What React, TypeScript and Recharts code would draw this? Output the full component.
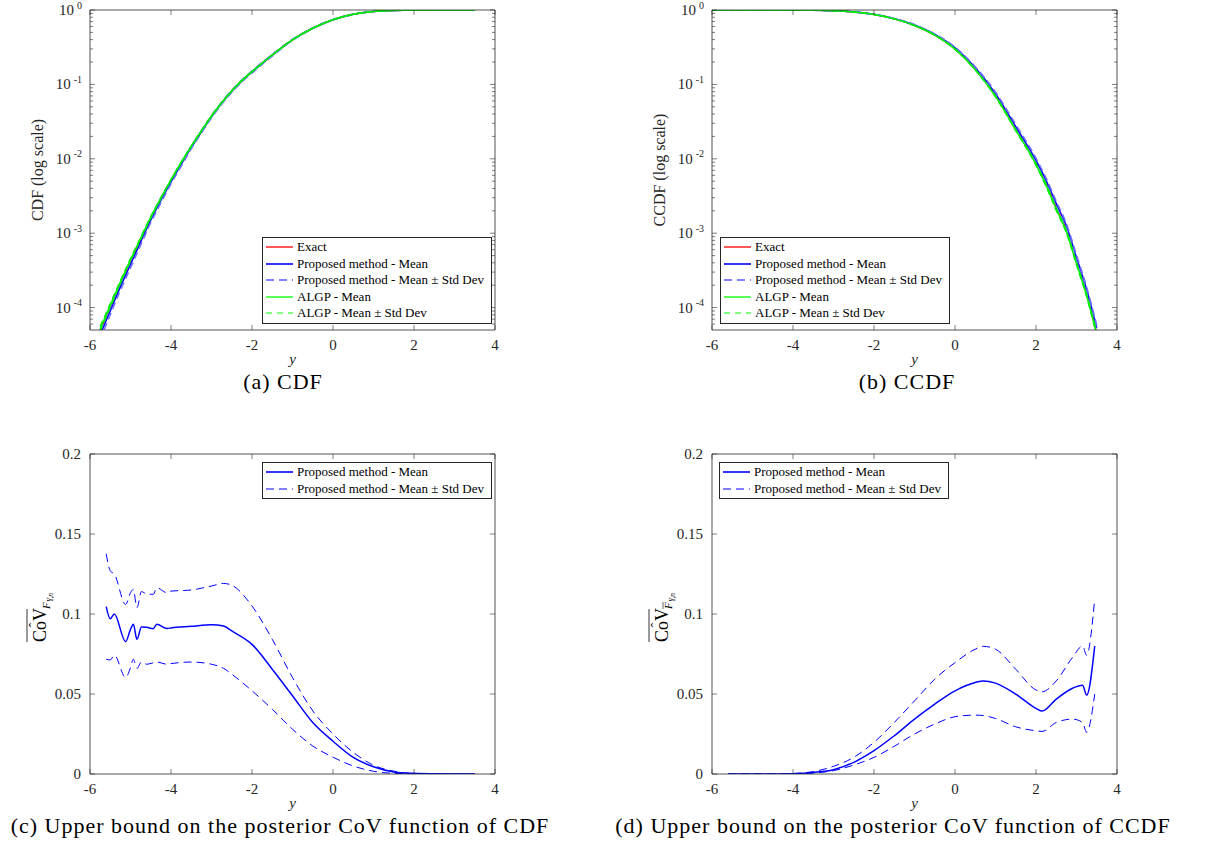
import { LineChart, Line, XAxis, YAxis, Legend } from "recharts";

const FONT = "'Liberation Serif', 'Times New Roman', Times, serif";
const INK = "#262626";

// ---- (a) CDF, log scale
const cdfY = [-5.75, -5.5, -5.25, -5, -4.75, -4.5, -4.25, -4, -3.75, -3.5, -3.25, -3, -2.75, -2.5, -2.25, -2, -1.5, -1, -0.5, 0, 0.5, 1, 1.5, 2, 2.5, 3, 3.5];
const cdfExact = [4.9e-5, 1.0e-4, 2.1e-4, 4.2e-4, 8.2e-4, 1.6e-3, 2.9e-3, 5.1e-3, 8.7e-3, 0.0145, 0.0234, 0.0372, 0.0562, 0.0813, 0.112, 0.148, 0.248, 0.398, 0.569, 0.741, 0.875, 0.955, 0.985, 0.997, 0.9995, 1, 1];
const cdfPropMean = [4.3e-5, 0.9e-4, 1.9e-4, 3.8e-4, 7.6e-4, 1.5e-3, 2.75e-3, 4.9e-3, 8.4e-3, 0.0142, 0.0231, 0.0368, 0.0558, 0.0808, 0.1115, 0.147, 0.247, 0.397, 0.568, 0.74, 0.875, 0.955, 0.985, 0.997, 0.9995, 1, 1];
const cdfPropHi = [5.0e-5, 1.02e-4, 2.15e-4, 4.3e-4, 8.4e-4, 1.62e-3, 2.95e-3, 5.2e-3, 8.9e-3, 0.0149, 0.0241, 0.0382, 0.0578, 0.0836, 0.115, 0.152, 0.254, 0.405, 0.576, 0.748, 0.88, 0.957, 0.986, 0.997, 0.9995, 1, 1];
const cdfPropLo = [3.7e-5, 0.8e-4, 1.7e-4, 3.4e-4, 6.9e-4, 1.38e-3, 2.55e-3, 4.6e-3, 7.9e-3, 0.0136, 0.0222, 0.0355, 0.054, 0.078, 0.108, 0.142, 0.24, 0.39, 0.56, 0.732, 0.868, 0.952, 0.984, 0.997, 0.9995, 1, 1];
const cdfAlgpMean = [5.2e-5, 1.07e-4, 2.2e-4, 4.4e-4, 8.5e-4, 1.63e-3, 2.95e-3, 5.2e-3, 8.9e-3, 0.0147, 0.0237, 0.0376, 0.0566, 0.0818, 0.1125, 0.1485, 0.2485, 0.398, 0.569, 0.741, 0.875, 0.955, 0.985, 0.997, 0.9995, 1, 1];
const cdfAlgpHi = [5.6e-5, 1.14e-4, 2.32e-4, 4.6e-4, 8.8e-4, 1.68e-3, 3.03e-3, 5.3e-3, 9.1e-3, 0.015, 0.0241, 0.0382, 0.0573, 0.0826, 0.1135, 0.1495, 0.25, 0.4, 0.571, 0.743, 0.876, 0.956, 0.985, 0.997, 0.9995, 1, 1];
const cdfAlgpLo = [4.8e-5, 1.0e-4, 2.08e-4, 4.2e-4, 8.2e-4, 1.58e-3, 2.88e-3, 5.1e-3, 8.7e-3, 0.0144, 0.0233, 0.037, 0.0559, 0.081, 0.1115, 0.1475, 0.247, 0.396, 0.567, 0.739, 0.874, 0.954, 0.985, 0.997, 0.9995, 1, 1];

// ---- (b) CCDF, log scale
const ccdfY = [-6, -5, -4, -3.5, -3, -2.5, -2, -1.5, -1, -0.5, 0, 0.5, 1, 1.5, 2, 2.25, 2.5, 2.75, 3, 3.25, 3.5];
const ccdfExact = [1, 0.9999, 0.998, 0.992, 0.977, 0.94, 0.87, 0.76, 0.62, 0.46, 0.3, 0.16, 0.071, 0.025, 0.0087, 0.0046, 0.0022, 0.0011, 4.1e-4, 1.5e-4, 4.5e-5];
const ccdfPropMean = [1, 0.9999, 0.998, 0.992, 0.978, 0.942, 0.874, 0.765, 0.63, 0.47, 0.31, 0.167, 0.075, 0.027, 0.0095, 0.0051, 0.0025, 0.00125, 4.7e-4, 1.75e-4, 5.3e-5];
const ccdfPropHi = [1, 1, 0.999, 0.994, 0.981, 0.947, 0.88, 0.772, 0.638, 0.478, 0.318, 0.173, 0.079, 0.029, 0.0102, 0.0055, 0.0027, 0.00135, 5.1e-4, 1.9e-4, 5.8e-5];
const ccdfPropLo = [1, 0.9998, 0.997, 0.99, 0.975, 0.937, 0.868, 0.758, 0.622, 0.462, 0.302, 0.161, 0.071, 0.025, 0.0088, 0.0047, 0.0023, 0.00115, 4.3e-4, 1.6e-4, 4.8e-5];
const ccdfAlgpMean = [1, 0.9999, 0.998, 0.992, 0.977, 0.94, 0.87, 0.76, 0.62, 0.46, 0.298, 0.158, 0.069, 0.0243, 0.0084, 0.0044, 0.0021, 0.00105, 3.9e-4, 1.45e-4, 4.4e-5];
const ccdfAlgpHi = [1, 1, 0.9985, 0.993, 0.978, 0.942, 0.872, 0.762, 0.623, 0.463, 0.301, 0.16, 0.0705, 0.0249, 0.0087, 0.0046, 0.0022, 0.0011, 4.1e-4, 1.52e-4, 4.7e-5];
const ccdfAlgpLo = [1, 0.9998, 0.9975, 0.991, 0.976, 0.938, 0.868, 0.758, 0.617, 0.457, 0.295, 0.156, 0.0675, 0.0237, 0.0081, 0.0042, 0.002, 0.001, 3.7e-4, 1.38e-4, 4.1e-5];

// ---- (c) CoV bound of CDF
const covCdfY = [-5.6, -5.5, -5.4, -5.12, -5.0, -4.93, -4.84, -4.73, -4.6, -4.44, -4.35, -4.1, -4, -3.5, -3, -2.7, -2.5, -2, -1.5, -1, -0.5, 0, 0.5, 1, 1.5, 2, 2.5, 3, 3.5];
const covCdfMean = [0.1046, 0.097, 0.1, 0.0827, 0.0904, 0.0936, 0.0842, 0.0919, 0.0917, 0.0908, 0.0936, 0.091, 0.0913, 0.0923, 0.0933, 0.0925, 0.0894, 0.081, 0.0655, 0.0489, 0.0322, 0.0205, 0.0104, 0.0045, 0.0013, 0.0004, 0.0001, 0, 0];
const covCdfHi = [0.1376, 0.127, 0.125, 0.106, 0.1133, 0.1154, 0.104, 0.114, 0.1125, 0.1123, 0.1164, 0.1133, 0.1143, 0.115, 0.1175, 0.1191, 0.118, 0.105, 0.0842, 0.0603, 0.0395, 0.025, 0.0135, 0.0055, 0.0018, 0.0002, 0, 0, 0];
const covCdfLo = [0.0717, 0.0713, 0.0742, 0.0603, 0.0665, 0.0717, 0.066, 0.07, 0.0686, 0.0695, 0.07, 0.0686, 0.069, 0.07, 0.0686, 0.066, 0.0624, 0.052, 0.0405, 0.028, 0.0175, 0.0105, 0.005, 0.0017, 0.0004, 0.0001, 0, 0, 0];

// ---- (d) CoV bound of CCDF
const covCcdfY = [-5.6, -5, -4.5, -4, -3.5, -3, -2.5, -2, -1.5, -1, -0.5, 0, 0.5, 0.7, 1, 1.5, 2, 2.15, 2.5, 2.9, 3.15, 3.25, 3.45];
const covCcdfMean = [0, 0, 0, 0.0002, 0.001, 0.0027, 0.0073, 0.0146, 0.0239, 0.0343, 0.0437, 0.052, 0.0572, 0.0582, 0.0568, 0.0499, 0.041, 0.0393, 0.0468, 0.0536, 0.0555, 0.0493, 0.08];
const covCcdfHi = [0, 0, 0, 0.0003, 0.0015, 0.0048, 0.0104, 0.0198, 0.0322, 0.0457, 0.0593, 0.0696, 0.078, 0.0798, 0.078, 0.0655, 0.0525, 0.0514, 0.0582, 0.0728, 0.08, 0.0742, 0.1096];
const covCcdfLo = [0, 0, 0, 0.0001, 0.0006, 0.0021, 0.0056, 0.0104, 0.0173, 0.025, 0.0312, 0.0358, 0.0368, 0.0365, 0.0347, 0.0295, 0.027, 0.0266, 0.0322, 0.0343, 0.0322, 0.026, 0.0499];

const xTicks = [-6, -4, -2, 0, 2, 4];
const logMajor = [1e-4, 1e-3, 1e-2, 1e-1, 1];
const logMinorMant = [2, 3, 4, 5, 6, 7, 8, 9];
const logTicks = [6e-5, 7e-5, 8e-5, 9e-5, ...logMajor, ...logMajor.slice(0, 4).flatMap((d) => logMinorMant.map((m) => m * d))];
const covTicks = [0, 0.05, 0.1, 0.15, 0.2];

const captions = [
  "(a) CDF",
  "(b) CCDF",
  "(c) Upper bound on the posterior CoV function of CDF",
  "(d) Upper bound on the posterior CoV function of CCDF",
];

type SeriesStyle = { key: string; color: string; width: number; dash?: string };
type LegendItem = { label: string; color: string; width: number; dash?: string };

const fullSeries: SeriesStyle[] = [
  { key: "exact", color: "#ff0000", width: 1.5 },
  { key: "propMean", color: "#0000ff", width: 1.5 },
  { key: "propLo", color: "#6f6fff", width: 1.5, dash: "7 4" },
  { key: "propHi", color: "#6f6fff", width: 1.5, dash: "7 4" },
  { key: "algpMean", color: "#00ff00", width: 1.5 },
  { key: "algpLo", color: "#00ee00", width: 1.2, dash: "6 4" },
  { key: "algpHi", color: "#00ee00", width: 1.2, dash: "6 4" },
];
const covSeries: SeriesStyle[] = [
  { key: "mean", color: "#0000ff", width: 1.5 },
  { key: "lo", color: "#0000ff", width: 1, dash: "8 5" },
  { key: "hi", color: "#0000ff", width: 1, dash: "8 5" },
];

const fullLegend: LegendItem[] = [
  { label: "Exact", color: "#ff0000", width: 1.3 },
  { label: "Proposed method - Mean", color: "#0000ff", width: 1.6 },
  { label: "Proposed method - Mean \u00b1 Std Dev", color: "#7f7fff", width: 2, dash: "8 5" },
  { label: "ALGP - Mean", color: "#00ff00", width: 1.3 },
  { label: "ALGP - Mean \u00b1 Std Dev", color: "#00ff00", width: 1.2, dash: "6 5" },
];
const covLegend: LegendItem[] = [
  { label: "Proposed method - Mean", color: "#0000ff", width: 1.6 },
  { label: "Proposed method - Mean \u00b1 Std Dev", color: "#0000ff", width: 1.2, dash: "8 5" },
];

function table(xs: number[], cols: Record<string, number[]>) {
  return xs.map((y, i) => {
    const row: Record<string, number> = { y };
    Object.entries(cols).forEach(([k, v]) => {
      row[k] = v[i];
    });
    return row;
  });
}

const cdfData = table(cdfY, { exact: cdfExact, propMean: cdfPropMean, propLo: cdfPropLo, propHi: cdfPropHi, algpMean: cdfAlgpMean, algpLo: cdfAlgpLo, algpHi: cdfAlgpHi });
const ccdfData = table(ccdfY, { exact: ccdfExact, propMean: ccdfPropMean, propLo: ccdfPropLo, propHi: ccdfPropHi, algpMean: ccdfAlgpMean, algpLo: ccdfAlgpLo, algpHi: ccdfAlgpHi });
const covCdfData = table(covCdfY, { mean: covCdfMean, lo: covCdfLo, hi: covCdfHi });
const covCcdfData = table(covCcdfY, { mean: covCcdfMean, lo: covCcdfLo, hi: covCcdfHi });

const isMajor = (v: number) => Math.abs(Math.log10(v) - Math.round(Math.log10(v))) < 1e-6;

function LogTickLeft({ x, y, payload }: any) {
  const v = payload.value as number;
  const major = isMajor(v);
  return (
    <g>
      <line x1={x} x2={x + (major ? 5 : 3)} y1={y} y2={y} stroke={INK} strokeWidth={0.6} />
      {major && (
        <text x={x - 8} y={y + 5} textAnchor="end" fontFamily={FONT} fontSize={15} fill={INK}>
          10
          <tspan dx={3} dy={-6.5} fontSize={10}>
            {Math.round(Math.log10(v))}
          </tspan>
        </text>
      )}
    </g>
  );
}

function LogTickRight({ x, y, payload }: any) {
  const major = isMajor(payload.value);
  return <line x1={x} x2={x - (major ? 5 : 3)} y1={y} y2={y} stroke={INK} strokeWidth={0.6} />;
}

function LinTickLeft({ x, y, payload }: any) {
  return (
    <g>
      <line x1={x} x2={x + 5} y1={y} y2={y} stroke={INK} strokeWidth={0.6} />
      <text x={x - 9} y={y + 5} textAnchor="end" fontFamily={FONT} fontSize={15} fill={INK}>
        {payload.value}
      </text>
    </g>
  );
}

function LinTickRight({ x, y }: any) {
  return <line x1={x} x2={x - 5} y1={y} y2={y} stroke={INK} strokeWidth={0.6} />;
}

function XTickBottom({ x, y, payload }: any) {
  return (
    <g>
      <line x1={x} x2={x} y1={y} y2={y - 5} stroke={INK} strokeWidth={0.6} />
      <text x={x} y={y + 20} textAnchor="middle" fontFamily={FONT} fontSize={15} fill={INK}>
        {payload.value}
      </text>
    </g>
  );
}

function XTickTop({ x, y }: any) {
  return <line x1={x} x2={x} y1={y} y2={y + 5} stroke={INK} strokeWidth={0.6} />;
}

function XLabel({ viewBox }: any) {
  return (
    <text x={viewBox.x + viewBox.width / 2} y={viewBox.y + 34} textAnchor="middle" fontFamily={FONT} fontStyle="italic" fontSize={15} fill={INK}>
      y
    </text>
  );
}

function TextYLabel({ viewBox, text }: any) {
  const cx = viewBox.x + 39;
  const cy = viewBox.y + viewBox.height / 2;
  return (
    <text transform={`translate(${cx},${cy}) rotate(-90)`} x={0} y={4} textAnchor="middle" fontFamily={FONT} fontSize={16} fill={INK}>
      {text}
    </text>
  );
}

function CovYLabel({ viewBox, bar }: any) {
  const cx = viewBox.x + 40;
  const cy = viewBox.y + viewBox.height / 2;
  return (
    <g transform={`translate(${cx},${cy}) rotate(-90)`} fontFamily={FONT} fill="#000">
      <text x={-28} y={6} fontSize={18}>CoV</text>
      <line x1={-28} x2={5} y1={-13} y2={-13} stroke="#000" strokeWidth={0.8} />
      <text x={-11} y={-1} fontSize={14} textAnchor="middle">{"\u02c6"}</text>
      <text x={5} y={10} fontSize={11} fontStyle="italic">F</text>
      <text x={12} y={13} fontSize={7.5} fontStyle="italic">Y,n</text>
      {bar && <line x1={5} x2={12} y1={1} y2={1} stroke="#000" strokeWidth={0.6} />}
    </g>
  );
}

function LegendBox({ items }: { items: LegendItem[] }) {
  return (
    <div style={{ border: `1px solid ${INK}`, background: "#fff", padding: "1px 7px 1px 2px", fontFamily: FONT, fontSize: 13, lineHeight: "16.5px", color: "#000" }}>
      {items.map((it) => (
        <div key={it.label} style={{ display: "flex", alignItems: "center", whiteSpace: "nowrap", height: 16.5 }}>
          <svg width={30} height={10}>
            <line x1={1} x2={28} y1={5} y2={5} stroke={it.color} strokeWidth={it.width} strokeDasharray={it.dash} />
          </svg>
          <span style={{ marginLeft: 2 }}>{it.label}</span>
        </div>
      ))}
    </div>
  );
}

type PanelProps = {
  left: number;
  top: number;
  data: Record<string, number>[];
  series: SeriesStyle[];
  log: boolean;
  yLabel: any;
  legend: LegendItem[];
  legendLeft: number;
  legendTop: number;
};

function Panel({ left, top, data, series, log, yLabel, legend, legendLeft, legendTop }: PanelProps) {
  const yProps = log
    ? { scale: "log" as const, domain: [5e-5, 1], ticks: logTicks }
    : { scale: "linear" as const, domain: [0, 0.2], ticks: covTicks };
  return (
    <div style={{ position: "absolute", left, top }}>
      <LineChart width={520} height={370} data={data} margin={{ top: 9, right: 24, bottom: 0, left: 0 }}>
        <XAxis xAxisId="b" dataKey="y" type="number" domain={[-6, 4]} ticks={xTicks} interval={0} allowDataOverflow height={40}
          axisLine={{ stroke: INK, strokeWidth: 0.8 }} tickLine={false} tickSize={0} tickMargin={0} tick={<XTickBottom />} label={<XLabel />} />
        <XAxis xAxisId="t" orientation="top" dataKey="y" type="number" domain={[-6, 4]} ticks={xTicks} interval={0} allowDataOverflow height={1}
          axisLine={{ stroke: INK, strokeWidth: 0.8 }} tickLine={false} tickSize={0} tickMargin={0} tick={<XTickTop />} />
        <YAxis yAxisId="l" type="number" {...yProps} allowDataOverflow interval={0} width={90}
          axisLine={{ stroke: INK, strokeWidth: 0.8 }} tickLine={false} tickSize={0} tickMargin={0}
          tick={log ? <LogTickLeft /> : <LinTickLeft />} label={yLabel} />
        <YAxis yAxisId="r" orientation="right" type="number" {...yProps} allowDataOverflow interval={0} width={1}
          axisLine={{ stroke: INK, strokeWidth: 0.8 }} tickLine={false} tickSize={0} tickMargin={0}
          tick={log ? <LogTickRight /> : <LinTickRight />} />
        {series.map((s) => (
          <Line key={s.key} xAxisId="b" yAxisId="l" dataKey={s.key} type="monotone" stroke={s.color} strokeWidth={s.width}
            strokeDasharray={s.dash} dot={false} activeDot={false} isAnimationActive={false} />
        ))}
        <Legend layout="horizontal" verticalAlign="middle" align="center"
          wrapperStyle={{ left: legendLeft, top: legendTop, width: "auto", height: "auto" }}
          content={() => <LegendBox items={legend} />} />
      </LineChart>
    </div>
  );
}

function Caption({ text, cx, top }: { text: string; cx: number; top: number }) {
  return (
    <div style={{ position: "absolute", left: cx - 320, top, width: 640, textAlign: "center", fontFamily: FONT, fontSize: 22, lineHeight: "22px", letterSpacing: 1, color: "#000", whiteSpace: "nowrap" }}>
      {text}
    </div>
  );
}

export default function App() {
  return (
    <div style={{ position: "relative", width: 1207, height: 848, background: "#fff", overflow: "hidden" }}>
      <style>{"body{margin:0;background:#fff}"}</style>
      <Panel left={0} top={0} data={cdfData} series={fullSeries} log
        yLabel={(p: any) => <TextYLabel {...p} text="CDF (log scale)" />} legend={fullLegend} legendLeft={262} legendTop={237} />
      <Panel left={622} top={0} data={ccdfData} series={fullSeries} log
        yLabel={(p: any) => <TextYLabel {...p} text="CCDF (log scale)" />} legend={fullLegend} legendLeft={98} legendTop={237} />
      <Panel left={0} top={444} data={covCdfData} series={covSeries} log={false}
        yLabel={(p: any) => <CovYLabel {...p} bar={false} />} legend={covLegend} legendLeft={262} legendTop={18} />
      <Panel left={622} top={444} data={covCcdfData} series={covSeries} log={false}
        yLabel={(p: any) => <CovYLabel {...p} bar />} legend={covLegend} legendLeft={97} legendTop={18} />
      <Caption text={captions[0]} cx={283} top={371} />
      <Caption text={captions[1]} cx={907} top={371} />
      <Caption text={captions[2]} cx={280} top={815} />
      <Caption text={captions[3]} cx={893} top={815} />
    </div>
  );
}
